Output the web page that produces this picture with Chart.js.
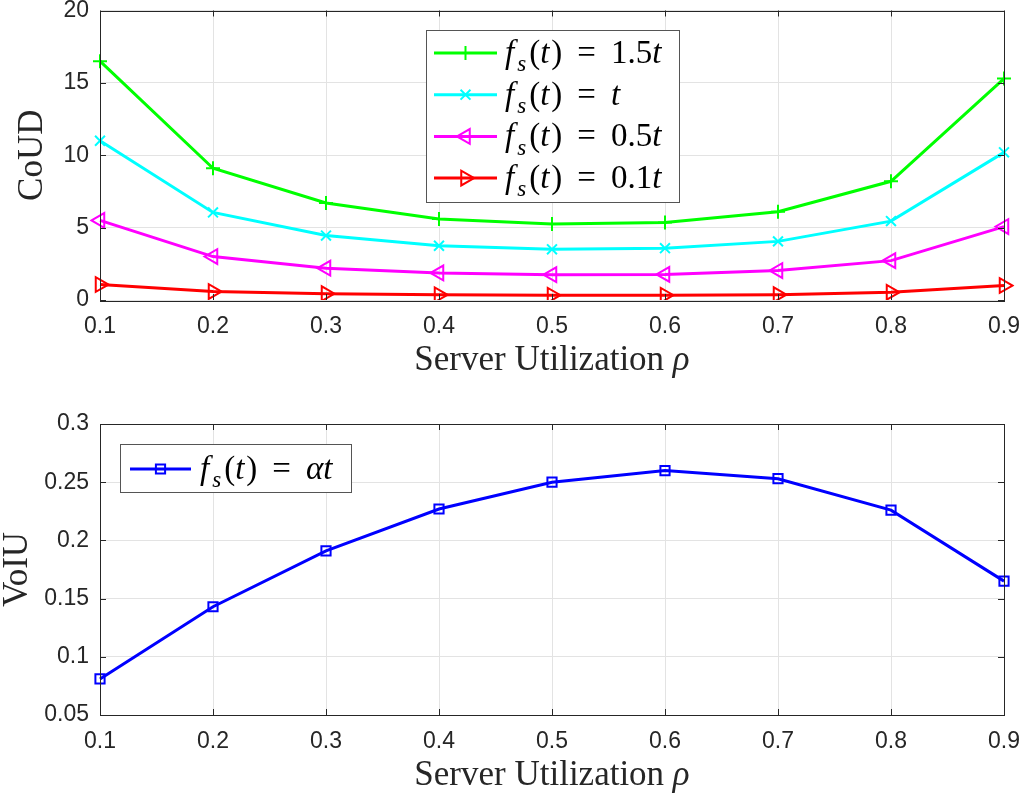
<!DOCTYPE html>
<html>
<head>
<meta charset="utf-8">
<title>CoUD / VoIU vs server utilization</title>
<script src="https://cdn.jsdelivr.net/npm/chart.js@4.4.1/dist/chart.umd.min.js"></script>
<style>
    html, body { margin: 0; padding: 0; background: #fff; overflow: hidden; }
    .panel { position: absolute; left: 0; width: 1021px; height: 397px; }
</style>
</head>
<body>
<div class="panel" style="top:0"><canvas id="coudChart"></canvas></div>
<div class="panel" style="top:397px"><canvas id="voiuChart"></canvas></div>
<script>
// data
const rho = ['0.1', '0.2', '0.3', '0.4', '0.5', '0.6', '0.7', '0.8', '0.9'];
const coud15 = [16.5, 9.1, 6.7, 5.6, 5.25, 5.35, 6.1, 8.2, 15.3];
const coud10 = [11.0, 6.05, 4.45, 3.75, 3.5, 3.58, 4.05, 5.45, 10.2];
const coud05 = [5.5, 3.0, 2.2, 1.87, 1.75, 1.77, 2.03, 2.72, 5.07];
const coud01 = [1.07, 0.58, 0.44, 0.36, 0.33, 0.33, 0.37, 0.53, 1.0];
const voiu = [0.081, 0.143, 0.191, 0.227, 0.250, 0.260, 0.253, 0.226, 0.165];
const coudTicks = [0, 5, 10, 15, 20];
const voiuTicks = [0.05, 0.1, 0.15, 0.2, 0.25, 0.3];

const SERIF = '"Liberation Serif", "Times New Roman", serif';
const SANS = '"Liberation Sans", Arial, sans-serif';
const INK = '#262626';
const GRID = '#e3e3e3';

// rich text: runs of {t, it, sub} or spacers {sp}
function drawRuns(ctx, runs, x, y, size, measureOnly) {
    runs.forEach(r => {
        if (r.sp) { x += r.sp; return; }
        let sz = r.sub ? size * 0.7 : size;
        ctx.font = (r.it ? 'italic ' : '') + sz + 'px ' + SERIF;
        if (!measureOnly) ctx.fillText(r.t, x, y + (r.sub ? size * 0.25 : 0));
        x += ctx.measureText(r.t).width;
    });
    return x;
}

// f_s(t) = <rhs>
function eqRuns(rhs) {
    return [{t: 'f', it: 1}, {sp: 3}, {t: 's', it: 1, sub: 1}, {sp: 3}, {t: '('}, {t: 't', it: 1}, {sp: 2},
        {t: ')'}, {sp: 15}, {t: '='}, {sp: 15}].concat(rhs);
}

const xTitleRuns = [{t: 'Server Utilization '}, {t: 'ρ', it: 1}];

// box, inward ticks, legend, x title (matlab look)
const matlabPlugin = {
    id: 'matlab',
    afterDraw(chart, args, opts) {
        const ctx = chart.ctx;
        const a = chart.chartArea;
        const xs = chart.scales.x, ys = chart.scales.y;
        ctx.save();
        ctx.strokeStyle = INK;
        ctx.lineWidth = 1;
        ctx.beginPath();
        xs.ticks.forEach((t, i) => {
            let px = Math.round(xs.getPixelForTick(i)) + 0.5;
            ctx.moveTo(px, a.bottom); ctx.lineTo(px, a.bottom - 6);
            ctx.moveTo(px, a.top); ctx.lineTo(px, a.top + 6);
        });
        ys.ticks.forEach(t => {
            let py = Math.round(ys.getPixelForValue(t.value)) + 0.5;
            ctx.moveTo(a.left, py); ctx.lineTo(a.left + 6, py);
            ctx.moveTo(a.right, py); ctx.lineTo(a.right - 6, py);
        });
        ctx.stroke();
        ctx.strokeRect(Math.round(a.left) + 0.5, Math.round(a.top) + 0.5,
            Math.round(a.right - a.left), Math.round(a.bottom - a.top));

        // legend
        const lg = opts.legend;
        ctx.fillStyle = '#fff';
        ctx.fillRect(lg.box[0], lg.box[1], lg.box[2] - lg.box[0], lg.box[3] - lg.box[1]);
        ctx.strokeStyle = '#555';
        ctx.strokeRect(lg.box[0] + 0.5, lg.box[1] + 0.5, lg.box[2] - lg.box[0], lg.box[3] - lg.box[1]);
        chart.data.datasets.forEach((ds, i) => {
            let cy = lg.firstY + i * lg.stepY;
            ctx.strokeStyle = ds.borderColor;
            ctx.lineWidth = ds.borderWidth;
            ctx.beginPath();
            ctx.moveTo(lg.lineX[0], cy); ctx.lineTo(lg.lineX[1], cy);
            ctx.stroke();
            ctx.lineWidth = ds.pointBorderWidth;
            ctx.fillStyle = 'rgba(0,0,0,0)';
            Chart.helpers.drawPoint(ctx, {
                pointStyle: ds.pointStyle, rotation: ds.pointRotation || 0,
                radius: ds.pointRadius, borderWidth: ds.pointBorderWidth
            }, (lg.lineX[0] + lg.lineX[1]) / 2, cy);
            ctx.fillStyle = '#000';
            ctx.textBaseline = 'alphabetic';
            ctx.textAlign = 'left';
            drawRuns(ctx, lg.labels[i], lg.textX, cy + 10, 33);
        });

        // x axis title
        ctx.fillStyle = INK;
        ctx.textBaseline = 'alphabetic';
        ctx.textAlign = 'left';
        let w = drawRuns(ctx, xTitleRuns, 0, 0, 35, true);
        drawRuns(ctx, xTitleRuns, (a.left + a.right) / 2 - w / 2, a.bottom + 70, 35);
        ctx.restore();
    }
};

function lineSet(label, data, color, style, radius, rotation) {
    return {
        label: label, data: data,
        borderColor: color, borderWidth: 3,
        pointStyle: style, pointRadius: radius, pointRotation: rotation || 0,
        pointBorderColor: color, pointBorderWidth: 2,
        pointBackgroundColor: 'rgba(0,0,0,0)',
        tension: 0, fill: false
    };
}

function makeOptions(cfg) {
    return {
        responsive: true,
        maintainAspectRatio: false,
        animation: false,
        layout: { padding: { top: cfg.padTop, right: 17, left: 0, bottom: 0 } },
        plugins: {
            legend: { display: false },
            tooltip: { enabled: false },
            matlab: { legend: cfg.legend }
        },
        scales: {
            x: {
                type: 'category',
                offset: false,
                grid: { color: GRID, drawTicks: false },
                border: { display: false },
                ticks: { color: INK, font: { family: SANS, size: 23 }, padding: 13, maxRotation: 0, autoSkip: false },
                afterFit: s => {
                    s.height = cfg.xHeight;
                    s.paddingLeft = 0; s.paddingRight = 0;
                }
            },
            y: {
                min: cfg.yTicks[0],
                max: cfg.yTicks[cfg.yTicks.length - 1],
                afterBuildTicks: s => { s.ticks = cfg.yTicks.map(v => ({ value: v })); },
                grid: { color: GRID, drawTicks: false },
                border: { display: false },
                ticks: {
                    color: INK, font: { family: SANS, size: 23 }, padding: 11,
                    callback: v => String(+Number(v).toFixed(2))
                },
                title: {
                    display: true, text: cfg.yTitle, color: INK,
                    font: { family: SERIF, size: 35, lineHeight: 1 },
                    padding: { top: cfg.titlePad, bottom: 0 }
                },
                afterFit: s => {
                    s.width = 100;
                    s.paddingTop = 0; s.paddingBottom = 0;
                }
            }
        }
    };
}

new Chart(document.getElementById('coudChart'), {
    type: 'line',
    data: {
        labels: rho,
        datasets: [
            lineSet('fs(t) = 1.5t', coud15, '#00ff00', 'cross', 7),
            lineSet('fs(t) = t', coud10, '#00ffff', 'crossRot', 7),
            lineSet('fs(t) = 0.5t', coud05, '#ff00ff', 'triangle', 8.5, -90),
            lineSet('fs(t) = 0.1t', coud01, '#ff0000', 'triangle', 8.5, 90)
        ]
    },
    options: makeOptions({
        padTop: 10, xHeight: 97, yTicks: coudTicks, yTitle: 'CoUD', titlePad: 15,
        legend: {
            box: [426, 30, 679, 202], firstY: 53, stepY: 41.7, lineX: [434, 497], textX: 505,
            labels: [
                eqRuns([{t: '1.5'}, {t: 't', it: 1}]),
                eqRuns([{t: 't', it: 1}]),
                eqRuns([{t: '0.5'}, {t: 't', it: 1}]),
                eqRuns([{t: '0.1'}, {t: 't', it: 1}])
            ]
        }
    }),
    plugins: [matlabPlugin]
});

new Chart(document.getElementById('voiuChart'), {
    type: 'line',
    data: {
        labels: rho,
        datasets: [lineSet('fs(t) = αt', voiu, '#0000ff', 'rect', 6.5)]
    },
    options: makeOptions({
        padTop: 27, xHeight: 79, yTicks: voiuTicks, yTitle: 'VoIU', titlePad: 0,
        legend: {
            box: [120, 47, 351, 95], firstY: 72, stepY: 0, lineX: [130, 191], textX: 200,
            labels: [eqRuns([{t: 'α', it: 1}, {t: 't', it: 1}])]
        }
    }),
    plugins: [matlabPlugin]
});
</script>
</body>
</html>
